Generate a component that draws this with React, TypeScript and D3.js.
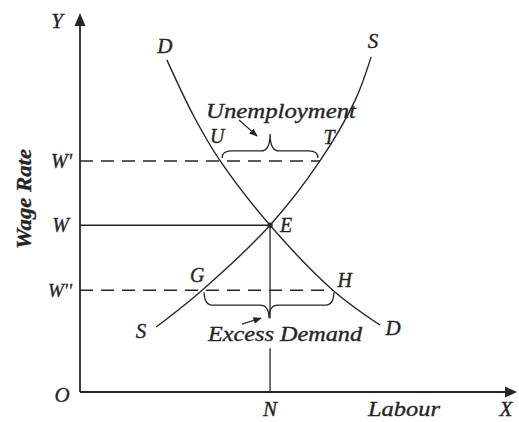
import React from "react";
import * as d3 from "d3";

// ---- Data (labour, wage in arbitrary units 0..100) ----
const demandLabour = [20.2, 26.5, 32.6, 44.2, 58.8, 69.8];
const demandWage = [87.4, 72.5, 60.8, 43.9, 26.8, 17.6];
const supplyLabour = [17.7, 28.4, 44.2, 55.8, 64.0, 67.7];
const supplyWage = [17.1, 26.8, 43.9, 60.8, 76.8, 88.2];

const wageTickLabels = ["W'", "W", "W''"];
const wageTickValues = [60.8, 43.9, 26.8];
const labourTickLabels = ["N"];
const labourTickValues = [44.2];

const pointNames = ["U", "T", "E", "G", "H"];
const pointLabour = [32.6, 55.8, 44.2, 28.4, 58.8];
const pointWage = [60.8, 60.8, 43.9, 26.8, 26.8];

const W = 519;
const H = 422;
const FONT = "Liberation Serif, Times New Roman, serif";
const INK = "#262626";

function brace(x1: number, x2: number, y0: number, yh: number, yt: number) {
  const xm = (x1 + x2) / 2;
  const r = 9;
  return `M${x1},${y0} Q${x1},${yh} ${x1 + r},${yh} L${xm - r},${yh} Q${xm},${yh} ${xm},${yt} Q${xm},${yh} ${xm + r},${yh} L${x2 - r},${yh} Q${x2},${yh} ${x2},${y0}`;
}

export default function App() {
  const x = d3.scaleLinear().domain([0, 100]).range([80, 510]);
  const y = d3.scaleLinear().domain([0, 100]).range([392, 12]);

  const line = d3
    .line<[number, number]>()
    .x((d) => x(d[0]))
    .y((d) => y(d[1]))
    .curve(d3.curveCatmullRom.alpha(0.5));

  const demand = demandLabour.map((l, i) => [l, demandWage[i]] as [number, number]);
  const supply = supplyLabour.map((l, i) => [l, supplyWage[i]] as [number, number]);

  const pt = (name: string) => {
    const i = pointNames.indexOf(name);
    return { px: x(pointLabour[i]), py: y(pointWage[i]) };
  };
  const U = pt("U");
  const T = pt("T");
  const E = pt("E");
  const G = pt("G");
  const Hh = pt("H");

  const x0 = x(0);
  const y0 = y(0);

  const uB = { x1: U.px + 2, x2: T.px - 2, y0: U.py - 3, yh: U.py - 10, yt: U.py - 27 };
  const eB = { x1: G.px + 2, x2: Hh.px + 1, y0: G.py + 2, yh: G.py + 15, yt: G.py + 28 };
  const uTipX = (uB.x1 + uB.x2) / 2;
  const eTipX = (eB.x1 + eB.x2) / 2;

  const t = { fontFamily: FONT, fontStyle: "italic", fill: INK, stroke: INK, strokeWidth: 0.35 } as const;

  return (
    <svg
      width={W}
      height={H}
      viewBox={`0 0 ${W} ${H}`}
      style={{ position: "absolute", left: 0, top: 0, background: "#fff" }}
    >
      <defs>
        <marker id="ah" viewBox="0 0 10 10" refX="9" refY="5" markerWidth="7" markerHeight="7" orient="auto">
          <path d="M0,1 L10,5 L0,9 Z" fill={INK} />
        </marker>
      </defs>

      {/* axes */}
      <line x1={x0} y1={y0} x2={x0} y2={24} stroke={INK} strokeWidth={1.8} />
      <path d={`M${x0},13 L${x0 + 5.5},26 L${x0 - 5.5},26 Z`} fill={INK} />
      <line x1={x0} y1={y0} x2={507} y2={y0} stroke={INK} strokeWidth={1.8} />
      <path d={`M517,${y0} L505,${y0 - 5.5} L505,${y0 + 5.5} Z`} fill={INK} />

      {/* wage lines */}
      <line x1={x0} y1={y(wageTickValues[0])} x2={T.px} y2={y(wageTickValues[0])} stroke={INK} strokeWidth={1.5} strokeDasharray="13 8" />
      <line x1={x0} y1={y(wageTickValues[1])} x2={E.px} y2={y(wageTickValues[1])} stroke={INK} strokeWidth={1.5} />
      <line x1={x0} y1={y(wageTickValues[2])} x2={Hh.px} y2={y(wageTickValues[2])} stroke={INK} strokeWidth={1.5} strokeDasharray="13 8" />

      {/* vertical N line */}
      <line x1={x(labourTickValues[0])} y1={E.py} x2={x(labourTickValues[0])} y2={eB.yt} stroke={INK} strokeWidth={1.3} />
      <line x1={x(labourTickValues[0])} y1={eB.yt + 30} x2={x(labourTickValues[0])} y2={y0} stroke={INK} strokeWidth={1.3} />

      {/* curves */}
      <path d={line(demand) || ""} fill="none" stroke={INK} strokeWidth={1.4} />
      <path d={line(supply) || ""} fill="none" stroke={INK} strokeWidth={1.4} />
      <circle cx={E.px} cy={E.py} r={2.6} fill={INK} />

      {/* braces */}
      <path d={brace(uB.x1, uB.x2, uB.y0, uB.yh, uB.yt)} fill="none" stroke={INK} strokeWidth={1.3} />
      <path d={brace(eB.x1, eB.x2, eB.y0, eB.yh, eB.yt)} fill="none" stroke={INK} strokeWidth={1.3} />
      <line x1={uTipX - 31} y1={uB.yt - 14} x2={uTipX - 13} y2={uB.yt + 2} stroke={INK} strokeWidth={1.2} markerEnd="url(#ah)" />
      <line x1={eTipX - 27} y1={eB.yt + 6} x2={eTipX - 8} y2={eB.yt} stroke={INK} strokeWidth={1.2} markerEnd="url(#ah)" />

      {/* axis labels */}
      <text x={57} y={28} textAnchor="middle" fontSize={21} {...t}>Y</text>
      <text x={62} y={402} textAnchor="middle" fontSize={21} {...t}>O</text>
      <text x={506} y={416} textAnchor="middle" fontSize={21} {...t}>X</text>
      <text x={368} y={416} fontSize={21} textLength={72} lengthAdjust="spacingAndGlyphs" {...t}>Labour</text>
      <text
        transform={`translate(31,199) rotate(-90)`}
        textAnchor="middle"
        fontSize={20}
        fontWeight="bold"
        textLength={100}
        lengthAdjust="spacingAndGlyphs"
        {...t}
      >
        Wage Rate
      </text>

      {wageTickLabels.map((lab, i) => (
        <text key={lab} x={lab === "W" ? 69 : 72} y={y(wageTickValues[i]) + 7} textAnchor="end" fontSize={i === 2 ? 19 : 20} {...t}>
          {lab}
        </text>
      ))}
      {labourTickLabels.map((lab, i) => (
        <text key={lab} x={x(labourTickValues[i])} y={416} textAnchor="middle" fontSize={21} {...t}>
          {lab}
        </text>
      ))}

      {/* curve labels */}
      <text x={x(demandLabour[0]) - 2} y={y(demandWage[0]) - 7} textAnchor="middle" fontSize={21} {...t}>D</text>
      <text x={x(supplyLabour[supplyLabour.length - 1]) + 2} y={y(supplyWage[supplyWage.length - 1]) - 9} textAnchor="middle" fontSize={21} {...t}>S</text>
      <text x={x(demandLabour[demandLabour.length - 1]) + 13} y={y(demandWage[demandWage.length - 1]) + 10} textAnchor="middle" fontSize={21} {...t}>D</text>
      <text x={x(supplyLabour[0]) - 15} y={y(supplyWage[0]) + 11} textAnchor="middle" fontSize={21} {...t}>S</text>

      {/* point labels */}
      <text x={U.px - 3} y={U.py - 18} textAnchor="middle" fontSize={20} {...t}>U</text>
      <text x={T.px + 9} y={T.py - 17} textAnchor="middle" fontSize={20} {...t}>T</text>
      <text x={E.px + 10} y={E.py + 7} fontSize={20} {...t}>E</text>
      <text x={G.px - 5} y={G.py - 8} textAnchor="middle" fontSize={20} {...t}>G</text>
      <text x={Hh.px + 12} y={Hh.py - 3} textAnchor="middle" fontSize={20} {...t}>H</text>

      {/* annotations */}
      <text x={206} y={118} fontSize={21} textLength={150} lengthAdjust="spacingAndGlyphs" {...t}>Unemployment</text>
      <text x={208} y={341} fontSize={21} textLength={154} lengthAdjust="spacingAndGlyphs" {...t}>Excess Demand</text>
    </svg>
  );
}
